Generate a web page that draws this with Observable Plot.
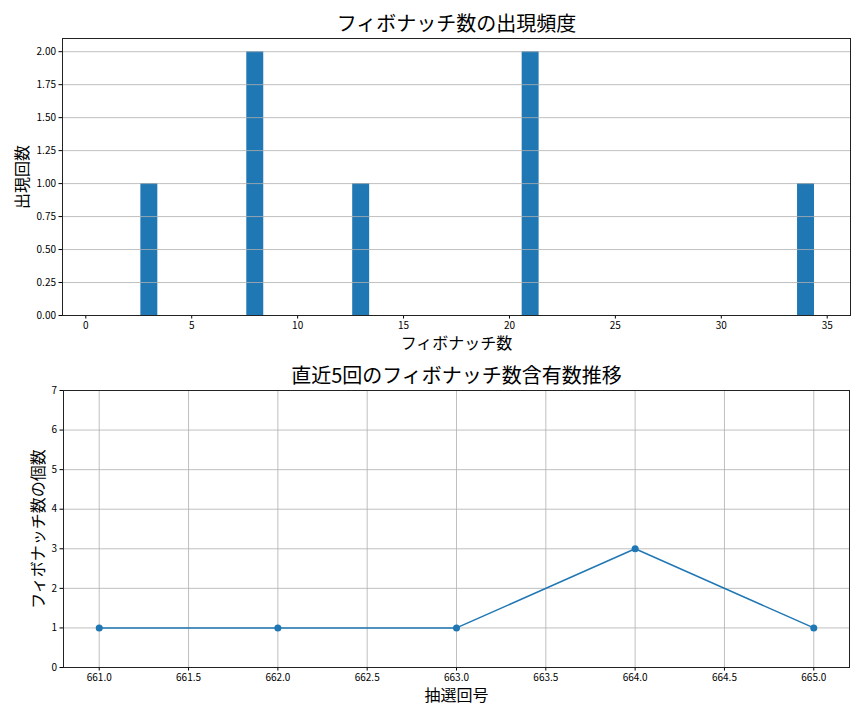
<!DOCTYPE html>
<html>
<head>
<meta charset="utf-8">
<script src="https://cdn.jsdelivr.net/npm/d3@7"></script>
<script src="https://cdn.jsdelivr.net/npm/@observablehq/plot@0.6"></script>
<style>
  html, body { margin: 0; padding: 0; background: white; }
  #chart svg { display: block; }
</style>
</head>
<body>
<div id="chart"></div>
<script>
// Top chart data: Fibonacci numbers and how often they appeared
const fibNumbers = [3, 8, 13, 21, 34];
const fibCounts = [1, 2, 1, 2, 1];
const topXTicks = [0, 5, 10, 15, 20, 25, 30, 35];
const topYTicks = [0, 0.25, 0.5, 0.75, 1, 1.25, 1.5, 1.75, 2];

// Bottom chart data: number of Fibonacci numbers in the last 5 draws
const drawNumbers = [661, 662, 663, 664, 665];
const fibPerDraw = [1, 1, 1, 3, 1];
const bottomXTicks = [661, 661.5, 662, 662.5, 663, 663.5, 664, 664.5, 665];
const bottomYTicks = [0, 1, 2, 3, 4, 5, 6, 7];

const titleTop = "フィボナッチ数の出現頻度";
const xLabelTop = "フィボナッチ数";
const yLabelTop = "出現回数";
const titleBottom = "直近5回のフィボナッチ数含有数推移";
const xLabelBottom = "抽選回号";
const yLabelBottom = "フィボナッチ数の個数";

const barData = fibNumbers.map((v, i) => ({value: v, count: fibCounts[i]}));
const lineData = drawNumbers.map((v, i) => ({draw: v, n: fibPerDraw[i]}));

const font = "'Noto Sans CJK JP', 'Noto Sans', sans-serif";
const blue = "#1f77b4";
const gridStyle = {stroke: "#b0b0b0", strokeOpacity: 1, strokeWidth: 0.8};
const axisStyle = {tickSize: 3.5, tickPadding: 3, label: null, stroke: "black", fill: "black", fontSize: 10};

const topChart = Plot.plot({
  width: 864, height: 360,
  marginTop: 38, marginBottom: 45, marginLeft: 62, marginRight: 14,
  style: {fontFamily: font, fontSize: "10px", color: "black", background: "white", overflow: "visible"},
  x: {domain: [-1.1, 36.1]},
  y: {domain: [0, 2.1]},
  marks: [
    Plot.rectY(barData, {x1: d => d.value - 0.4, x2: d => d.value + 0.4, y1: 0, y2: "count", fill: blue}),
    Plot.gridY(topYTicks, gridStyle),
    Plot.axisX(topXTicks, {...axisStyle, tickFormat: d3.format("d")}),
    Plot.axisY(topYTicks, {...axisStyle, tickFormat: d3.format(".2f")}),
    Plot.frame({stroke: "#222", strokeWidth: 1}),
    Plot.text([titleTop], {text: d => d, frameAnchor: "top", dy: -14, fontSize: 20, textAnchor: "middle", lineAnchor: "middle", fill: "black"}),
    Plot.text([xLabelTop], {text: d => d, frameAnchor: "bottom", dy: 28.5, fontSize: 16, textAnchor: "middle", lineAnchor: "middle", fill: "black"}),
    Plot.text([yLabelTop], {text: d => d, frameAnchor: "left", dx: -40, rotate: -90, fontSize: 16, textAnchor: "middle", lineAnchor: "middle", fill: "black"})
  ]
});

const bottomChart = Plot.plot({
  width: 864, height: 360,
  marginTop: 30, marginBottom: 53, marginLeft: 63, marginRight: 15,
  style: {fontFamily: font, fontSize: "10px", color: "black", background: "white", overflow: "visible"},
  x: {domain: [660.8, 665.2]},
  y: {domain: [0, 7]},
  marks: [
    Plot.gridX(bottomXTicks, gridStyle),
    Plot.gridY(bottomYTicks, gridStyle),
    Plot.line(lineData, {x: "draw", y: "n", stroke: blue, strokeWidth: 1.5}),
    Plot.dot(lineData, {x: "draw", y: "n", r: 3.5, fill: blue, stroke: "none"}),
    Plot.axisX(bottomXTicks, {...axisStyle, tickFormat: d3.format(".1f")}),
    Plot.axisY(bottomYTicks, {...axisStyle, tickFormat: d3.format("d")}),
    Plot.frame({stroke: "#222", strokeWidth: 1}),
    Plot.text([titleBottom], {text: d => d, frameAnchor: "top", dy: -14, fontSize: 20, textAnchor: "middle", lineAnchor: "middle", fill: "black"}),
    Plot.text([xLabelBottom], {text: d => d, frameAnchor: "bottom", dy: 28.5, fontSize: 16, textAnchor: "middle", lineAnchor: "middle", fill: "black"}),
    Plot.text([yLabelBottom], {text: d => d, frameAnchor: "left", dx: -25, rotate: -90, fontSize: 16, textAnchor: "middle", lineAnchor: "middle", fill: "black"})
  ]
});

document.getElementById("chart").append(topChart, bottomChart);
</script>
</body>
</html>
